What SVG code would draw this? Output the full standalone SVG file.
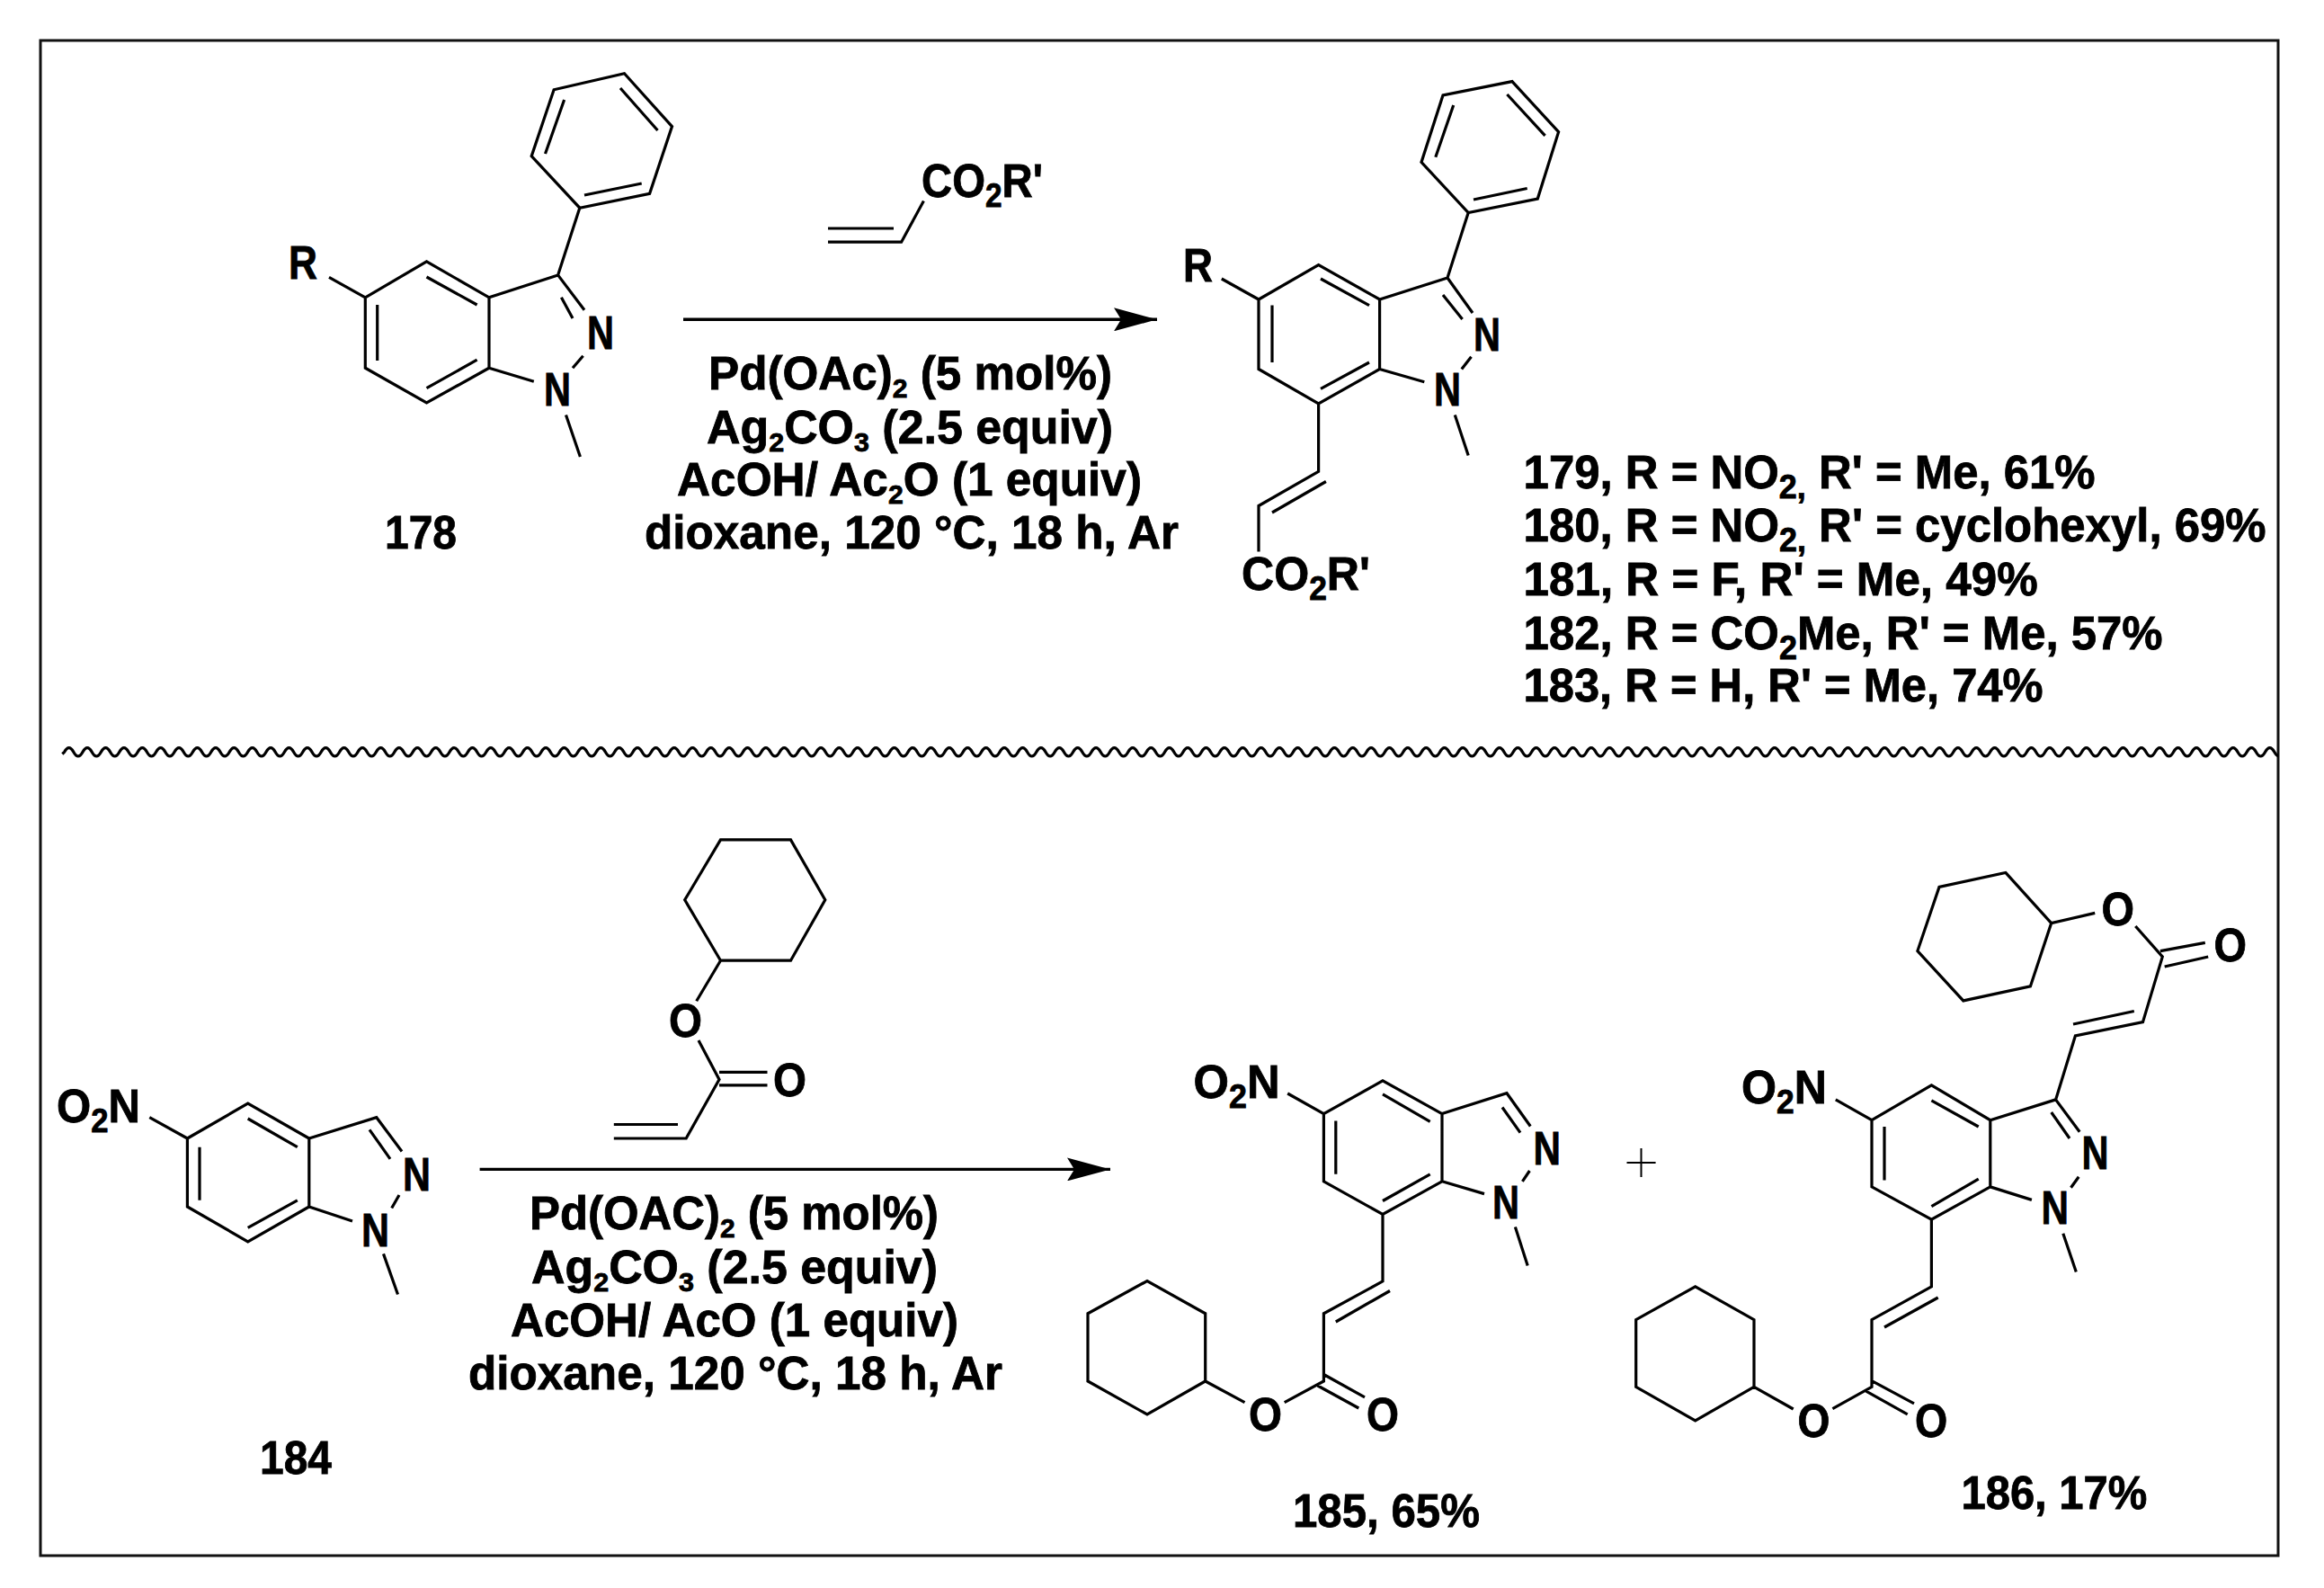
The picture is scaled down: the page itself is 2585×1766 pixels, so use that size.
<svg xmlns="http://www.w3.org/2000/svg" width="2585" height="1766" viewBox="0 0 2585 1766">
<defs>
<marker id="head" markerUnits="userSpaceOnUse" markerWidth="50" markerHeight="26" refX="48" refY="13" orient="auto"><path d="M0 0L48 13L0 26L8 13Z" fill="#000"/></marker>
<clipPath id="waveclip"><rect x="60" y="820" width="2474" height="32"/></clipPath>
</defs>
<style>
text{font-family:"Liberation Sans",Arial,sans-serif;font-weight:700;font-size:51px;fill:#000;stroke:#000;stroke-width:.8;transform:translate(0,1px)}
.b{fill:none;stroke:#000;stroke-width:3.2;stroke-linejoin:miter;stroke-linecap:butt}
.s{font-size:36px}
.w{font-size:30px}
</style>
<rect width="2585" height="1766" fill="#fff"/>
<rect id="frame" x="45" y="45" width="2489" height="1685" fill="none" stroke="#111" stroke-width="3"/>
<g id="connectors">
<path class="b" d="M760 355.3H1287" marker-end="url(#head)" style="stroke-width:3.4"/>
<path class="b" d="M533.6 1300.4H1235" marker-end="url(#head)" style="stroke-width:3.4"/>
<path class="b" d="M1809.5 1293H1841.6M1825.5 1277V1309" style="stroke-width:2"/>
<path class="b" id="wave" clip-path="url(#waveclip)" d="M69.3 838.5L71.6 836.3q5.1-9.4 10.2 0t10.2 0 10.2 0 10.2 0 10.2 0 10.2 0 10.2 0 10.2 0 10.2 0 10.2 0 10.2 0 10.2 0 10.2 0 10.2 0 10.2 0 10.2 0 10.2 0 10.2 0 10.2 0 10.2 0 10.2 0 10.2 0 10.2 0 10.2 0 10.2 0 10.2 0 10.2 0 10.2 0 10.2 0 10.2 0 10.2 0 10.2 0 10.2 0 10.2 0 10.2 0 10.2 0 10.2 0 10.2 0 10.2 0 10.2 0 10.2 0 10.2 0 10.2 0 10.2 0 10.2 0 10.2 0 10.2 0 10.2 0 10.2 0 10.2 0 10.2 0 10.2 0 10.2 0 10.2 0 10.2 0 10.2 0 10.2 0 10.2 0 10.2 0 10.2 0 10.2 0 10.2 0 10.2 0 10.2 0 10.2 0 10.2 0 10.2 0 10.2 0 10.2 0 10.2 0 10.2 0 10.2 0 10.2 0 10.2 0 10.2 0 10.2 0 10.2 0 10.2 0 10.2 0 10.2 0 10.2 0 10.2 0 10.2 0 10.2 0 10.2 0 10.2 0 10.2 0 10.2 0 10.2 0 10.2 0 10.2 0 10.2 0 10.2 0 10.2 0 10.2 0 10.2 0 10.2 0 10.2 0 10.2 0 10.2 0 10.2 0 10.2 0 10.2 0 10.2 0 10.2 0 10.2 0 10.2 0 10.2 0 10.2 0 10.2 0 10.2 0 10.2 0 10.2 0 10.2 0 10.2 0 10.2 0 10.2 0 10.2 0 10.2 0 10.2 0 10.2 0 10.2 0 10.2 0 10.2 0 10.2 0 10.2 0 10.2 0 10.2 0 10.2 0 10.2 0 10.2 0 10.2 0 10.2 0 10.2 0 10.2 0 10.2 0 10.2 0 10.2 0 10.2 0 10.2 0 10.2 0 10.2 0 10.2 0 10.2 0 10.2 0 10.2 0 10.2 0 10.2 0 10.2 0 10.2 0 10.2 0 10.2 0 10.2 0 10.2 0 10.2 0 10.2 0 10.2 0 10.2 0 10.2 0 10.2 0 10.2 0 10.2 0 10.2 0 10.2 0 10.2 0 10.2 0 10.2 0 10.2 0 10.2 0 10.2 0 10.2 0 10.2 0 10.2 0 10.2 0 10.2 0 10.2 0 10.2 0 10.2 0 10.2 0 10.2 0 10.2 0 10.2 0 10.2 0 10.2 0 10.2 0 10.2 0 10.2 0 10.2 0 10.2 0 10.2 0 10.2 0 10.2 0 10.2 0 10.2 0 10.2 0 10.2 0 10.2 0 10.2 0 10.2 0 10.2 0 10.2 0 10.2 0 10.2 0 10.2 0 10.2 0 10.2 0 10.2 0 10.2 0 10.2 0 10.2 0 10.2 0 10.2 0 10.2 0 10.2 0 10.2 0 10.2 0 10.2 0 10.2 0 10.2 0 10.2 0 10.2 0 10.2 0 10.2 0 10.2 0 10.2 0 10.2 0 10.2 0 10.2 0 10.2 0 10.2 0 10.2 0 10.2 0 10.2 0 10.2 0 10.2 0 10.2 0 10.2 0 10.2 0 10.2 0 10.2 0 10.2 0 10.2 0 10.2 0 10.2 0 10.2 0 10.2 0 10.2 0 10.2 0 10.2 0 10.2 0 10.2 0 10.2 0 10.2 0 10.2 0 10.2 0 10.2 0 10.2 0 10.2 0 10.2 0 10.2 0 10.2 0 10.2 0 10.2 0 10.2 0 10.2 0 10.2 0 10.2 0 10.2 0 10.2 0 10.2 0 10.2 0 10.2 0 10.2 0 10.2 0 10.2 0 10.2 0 10.2 0 10.2 0 10.2 0 10.2 0 10.2 0 10.2 0 10.2 0 10.2 0 10.2 0 10.2 0 10.2 0 10.2 0 10.2 0 10.2 0 10.2 0 10.2 0 10.2 0 10.2 0 10.2 0 10.2 0 10.2 0 10.2 0 10.2 0 10.2 0 10.2 0 10.2 0 10.2 0 10.2 0 10.2 0 10.2 0 10.2 0 10.2 0 10.2 0 10.2 0 10.2 0 10.2 0 10.2 0 10.2 0 10.2 0 10.2 0 10.2 0 10.2 0 10.2 0 10.2 0 10.2 0 10.2 0 10.2 0 10.2 0 10.2 0 10.2 0 10.2 0 10.2 0 10.2 0 10.2 0 10.2 0 10.2 0 10.2 0 10.2 0 10.2 0 10.2 0 10.2 0 10.2 0 10.2 0 10.2 0 10.2 0 10.2 0 10.2 0 10.2 0"/>
</g>
<g id="c178">
<path class="b" d="M694.5 81.8L747.5 140.6L722.6 215.3L644.8 231.2L591.2 173.7L616.1 99.8ZM627.6 111L606.5 171M690 98L731.5 145M650 217L713.7 204M644.8 231.2L620.6 305.9L544 330.8L474.5 290.8L406.3 330.8V409.2L474.5 448L544 409.2V330.8M474.5 308L530.6 339M419.7 339V401M474.5 431.6L530.6 400.2M366 308.4L406.3 330.8M620.6 305.9L650 344.7M624.4 330.8L637 354M648.6 395.7L637 409.2M544 409.2L593.8 424.3M629.5 461.4L645.4 508"/>
<text x="321" y="309" textLength="32" lengthAdjust="spacingAndGlyphs">R</text>
<text x="653" y="387" textLength="30" lengthAdjust="spacingAndGlyphs">N</text>
<text x="605" y="450" textLength="30" lengthAdjust="spacingAndGlyphs">N</text>
<text x="428" y="609" textLength="80" lengthAdjust="spacingAndGlyphs">178</text>
</g>
<g id="acrylate1">
<path class="b" d="M1027.4 223.5L1002.6 269.2H921M921 254H994"/>
<text x="1025" y="218" textLength="135" lengthAdjust="spacingAndGlyphs">CO<tspan class="s" dy="11">2</tspan><tspan dy="-11">R'</tspan></text>
</g>
<g id="conditions1">
<text x="788" y="431.6" textLength="449" lengthAdjust="spacingAndGlyphs">Pd(OAc)<tspan class="w" dy="9">2</tspan><tspan dy="-9"> (5 mol%)</tspan></text>
<text x="786" y="491.6" textLength="452" lengthAdjust="spacingAndGlyphs">Ag<tspan class="w" dy="9">2</tspan><tspan dy="-9">CO</tspan><tspan class="w" dy="9">3</tspan><tspan dy="-9"> (2.5 equiv)</tspan></text>
<text x="753" y="550" textLength="517" lengthAdjust="spacingAndGlyphs">AcOH/ Ac<tspan class="w" dy="9">2</tspan><tspan dy="-9">O (1 equiv)</tspan></text>
<text x="717" y="609" textLength="594" lengthAdjust="spacingAndGlyphs">dioxane, 120 °C, 18 h, Ar</text>
</g>
<g id="c179">
<path class="b" d="M1682 90.6L1733.6 146.7L1710.3 221L1633.2 236.5L1581 180.4L1605 106ZM1616.7 117L1596.8 174.8M1676.4 105L1718.6 150.8M1639 222L1698.7 209.5M1633.2 236.5L1610 309L1534.6 333L1466.6 294.7L1400 333V410.5L1466.6 448.8L1534.6 410.5V333M1469 310L1523 339.6M1415 339.6V403M1469 432.4L1523 403M1358.8 310L1400 333M1610 309L1638 348M1605 328L1626.6 355M1636.5 396.7L1625.8 410.5M1534.6 410.5L1584.3 424.8M1618.3 461.5L1633.2 506.4M1466.6 448.8V524.3L1400 562.5V613.6M1474.9 535.5L1415 570"/>
<text x="1316" y="311.5" textLength="33" lengthAdjust="spacingAndGlyphs">R</text>
<text x="1639" y="389" textLength="30" lengthAdjust="spacingAndGlyphs">N</text>
<text x="1595" y="450" textLength="30" lengthAdjust="spacingAndGlyphs">N</text>
<text x="1381" y="655.4" textLength="143" lengthAdjust="spacingAndGlyphs">CO<tspan class="s" dy="11">2</tspan><tspan dy="-11">R'</tspan></text>
</g>
<g id="products1">
<text x="1694.6" y="542" textLength="636" lengthAdjust="spacingAndGlyphs">179, R = NO<tspan class="s" dy="11">2,</tspan><tspan dy="-11"> R' = Me, 61%</tspan></text>
<text x="1694.6" y="600.8" textLength="826" lengthAdjust="spacingAndGlyphs">180, R = NO<tspan class="s" dy="11">2,</tspan><tspan dy="-11"> R' = cyclohexyl, 69%</tspan></text>
<text x="1694.6" y="661" textLength="572" lengthAdjust="spacingAndGlyphs">181, R = F, R' = Me, 49%</text>
<text x="1694.6" y="720.7" textLength="711" lengthAdjust="spacingAndGlyphs">182, R = CO<tspan class="s" dy="11">2</tspan><tspan dy="-11">Me, R' = Me, 57%</tspan></text>
<text x="1694.6" y="779.4" textLength="578" lengthAdjust="spacingAndGlyphs">183, R = H, R' = Me, 74%</text>
</g>
<g id="c184">
<path class="b" d="M208.4 1266L275.7 1227.2L343.8 1266V1342L275.7 1380.8L208.4 1342ZM166.3 1242.7L208.4 1266M343.8 1266L418.8 1242.7L447 1280.5M411 1256.3L434 1288.8M275.7 1244L330.8 1275.7M222 1275.7V1334.8M275.7 1365.3L330.8 1334.8M444 1329L435.7 1343.5M343.8 1342L392 1358M426.5 1394.4L442.5 1439.5"/>
<text x="63" y="1246.6" textLength="93" lengthAdjust="spacingAndGlyphs">O<tspan class="s" dy="11">2</tspan><tspan dy="-11">N</tspan></text>
<text x="448" y="1323" textLength="31" lengthAdjust="spacingAndGlyphs">N</text>
<text x="402" y="1384.7" textLength="31" lengthAdjust="spacingAndGlyphs">N</text>
<text x="289" y="1637.8" textLength="80" lengthAdjust="spacingAndGlyphs">184</text>
</g>
<g id="acrylate2">
<path class="b" d="M801.5 933.9H879.5L917.8 1000.8L879.5 1068.2H801.5L761.7 1000.8ZM801.5 1068.2L774.7 1113.3M777 1157L800 1200.5L763.2 1266H682.8M682.8 1250.5H754M800 1192.3H853.5M800 1206.8H853.5"/>
<text x="744" y="1152" textLength="37" lengthAdjust="spacingAndGlyphs">O</text>
<text x="860" y="1217.5" textLength="37" lengthAdjust="spacingAndGlyphs">O</text>
</g>
<g id="conditions2">
<text x="589" y="1366.3" textLength="455" lengthAdjust="spacingAndGlyphs">Pd(OAC)<tspan class="w" dy="9">2</tspan><tspan dy="-9"> (5 mol%)</tspan></text>
<text x="591" y="1426" textLength="452" lengthAdjust="spacingAndGlyphs">Ag<tspan class="w" dy="9">2</tspan><tspan dy="-9">CO</tspan><tspan class="w" dy="9">3</tspan><tspan dy="-9"> (2.5 equiv)</tspan></text>
<text x="568" y="1485" textLength="498" lengthAdjust="spacingAndGlyphs">AcOH/ AcO (1 equiv)</text>
<text x="521" y="1543.7" textLength="594" lengthAdjust="spacingAndGlyphs">dioxane, 120 °C, 18 h, Ar</text>
</g>
<g id="c185">
<path class="b" d="M1472.4 1238.6L1538 1201.9L1604 1238.6V1313.8L1538 1350.5L1472.4 1313.8ZM1432.2 1216L1472.4 1238.6M1604 1238.6L1676 1215.7L1702.3 1252.5M1671 1231.5L1691 1259.6M1538 1216.9L1590.7 1247.3M1485.8 1246.5V1305.8M1538 1335.5L1590.7 1305.8M1701.4 1302L1693.4 1313.8M1604 1313.8L1651 1327.6M1685.4 1364.4L1699.2 1407.5M1538 1350.5V1424.9L1472.4 1460.8V1536L1428.7 1559.7M1546 1435.5L1485.8 1470M1472.4 1528.5L1518 1553.8M1465.7 1541L1511.3 1566M1384.5 1559.7L1340.7 1536M1340.7 1536V1460.8L1276 1424.5L1210 1460.8V1536L1276 1573Z"/>
<text x="1327.6" y="1219.6" textLength="96" lengthAdjust="spacingAndGlyphs">O<tspan class="s" dy="11">2</tspan><tspan dy="-11">N</tspan></text>
<text x="1705.4" y="1294" textLength="30.5" lengthAdjust="spacingAndGlyphs">N</text>
<text x="1660" y="1354" textLength="30" lengthAdjust="spacingAndGlyphs">N</text>
<text x="1389" y="1589.8" textLength="37" lengthAdjust="spacingAndGlyphs">O</text>
<text x="1520" y="1589.8" textLength="36" lengthAdjust="spacingAndGlyphs">O</text>
<text x="1438" y="1696.5" textLength="208" lengthAdjust="spacingAndGlyphs">185, 65%</text>
</g>
<g id="c186">
<path class="b" d="M2230.8 970.4L2281.7 1026.6L2258.4 1096.9L2183.8 1112.9L2132.9 1057.6L2157 986.4ZM2281.7 1026.6L2330.2 1015.4M2375.3 1030L2405.3 1064L2383.5 1136.6L2308.4 1152L2286.6 1222.9L2213.8 1245.7L2148.4 1206.9L2082 1245.7V1319.9L2148.4 1356.2L2213.8 1319.9V1245.7M2306 1139L2373.8 1124.5M2402.9 1057.6L2452.8 1048.4M2407.7 1075L2456.2 1064M2041.8 1222.9L2082 1245.7M2286.6 1222.9L2313.2 1258.8M2281.7 1237L2302 1266M2312.2 1308.7L2303.5 1320.8M2213.8 1319.9L2259.9 1334.4M2294.8 1371.7L2309.3 1414.4M2148.4 1223.9L2200.7 1253M2096 1253V1312.6M2148.4 1341.7L2200.7 1311.1M2148.4 1356.2V1430.9L2082 1467.7V1542.4L2038.4 1566.6M2155.7 1443L2096 1476M2082 1535.6L2129 1560.8M2075.7 1547.2L2121.7 1572.9M1994.7 1567L1951 1542.4M1951 1542.4V1467.7L1885.7 1430.9L1819.7 1467.7V1542.4L1885.7 1580Z"/>
<text x="2337.4" y="1027.6" textLength="36.5" lengthAdjust="spacingAndGlyphs">O</text>
<text x="2462.5" y="1067.8" textLength="36.5" lengthAdjust="spacingAndGlyphs">O</text>
<text x="1937" y="1226.3" textLength="95" lengthAdjust="spacingAndGlyphs">O<tspan class="s" dy="11">2</tspan><tspan dy="-11">N</tspan></text>
<text x="2315.6" y="1299" textLength="30" lengthAdjust="spacingAndGlyphs">N</text>
<text x="2270.5" y="1359.6" textLength="30.5" lengthAdjust="spacingAndGlyphs">N</text>
<text x="1999.6" y="1597" textLength="36" lengthAdjust="spacingAndGlyphs">O</text>
<text x="2130" y="1597" textLength="36.3" lengthAdjust="spacingAndGlyphs">O</text>
<text x="2181.4" y="1677" textLength="207" lengthAdjust="spacingAndGlyphs">186, 17%</text>
</g>
</svg>
